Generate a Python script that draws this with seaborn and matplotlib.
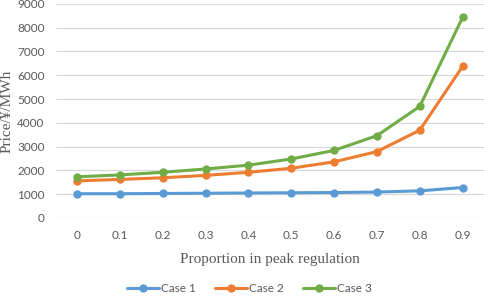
import pandas as pd
import matplotlib.pyplot as plt
import seaborn as sns

# Data
proportion = [0, 0.1, 0.2, 0.3, 0.4, 0.5, 0.6, 0.7, 0.8, 0.9]
case1 = [1020, 1020, 1030, 1040, 1050, 1060, 1070, 1090, 1140, 1280]
case2 = [1560, 1620, 1690, 1790, 1920, 2090, 2360, 2790, 3690, 6370]
case3 = [1730, 1810, 1920, 2060, 2220, 2480, 2840, 3460, 4690, 8430]
case_names = ['Case 1', 'Case 2', 'Case 3']
colors = ['#5B9BD5', '#ED7D31', '#70AD47']

df = pd.DataFrame({
    'Proportion': proportion * 3,
    'Price': case1 + case2 + case3,
    'Case': [c for c in case_names for _ in proportion],
})

sns.set_style('white')
plt.rcParams['font.family'] = ['Lato', 'DejaVu Sans']

fig = plt.figure(figsize=(4.84, 2.99), dpi=100)
ax = fig.add_axes([0.115, 0.271, 0.885, 0.716])

sns.lineplot(data=df, x='Proportion', y='Price', hue='Case', palette=colors,
             marker='o', markersize=6, markeredgewidth=0, linewidth=2.2, ax=ax)

ax.set_xlim(-0.05, 0.95)
ax.set_ylim(0, 9000)
ax.set_xticks(proportion)
ax.set_xticklabels(['0'] + [f'{p:.1f}' for p in proportion[1:]])
ax.set_yticks(range(0, 9001, 1000))
ax.tick_params(axis='both', labelsize=8.5, labelcolor='#595959', length=0)
ax.tick_params(axis='x', pad=9)
ax.tick_params(axis='y', pad=8)
ax.yaxis.grid(True, color='#D9D9D9', linewidth=0.9)
for s in ax.spines.values():
    s.set_visible(False)

ax.set_xlabel('Proportion in peak regulation', family='Liberation Serif',
              fontsize=11, color='#595959', labelpad=8)
ax.set_ylabel('Price/¥/MWh', family='Liberation Serif', fontsize=11,
              color='#595959')
ax.yaxis.set_label_coords(-0.098, 0.5)

handles, labels = ax.get_legend_handles_labels()
ax.get_legend().remove()
fig.legend(handles, labels, loc='center', bbox_to_anchor=(0.515, 0.035), ncol=3,
           frameon=False, fontsize=8.5, labelcolor='#595959', handlelength=2.7,
           columnspacing=1.6, handletextpad=0.2)

fig.savefig('out.png', dpi=100)
